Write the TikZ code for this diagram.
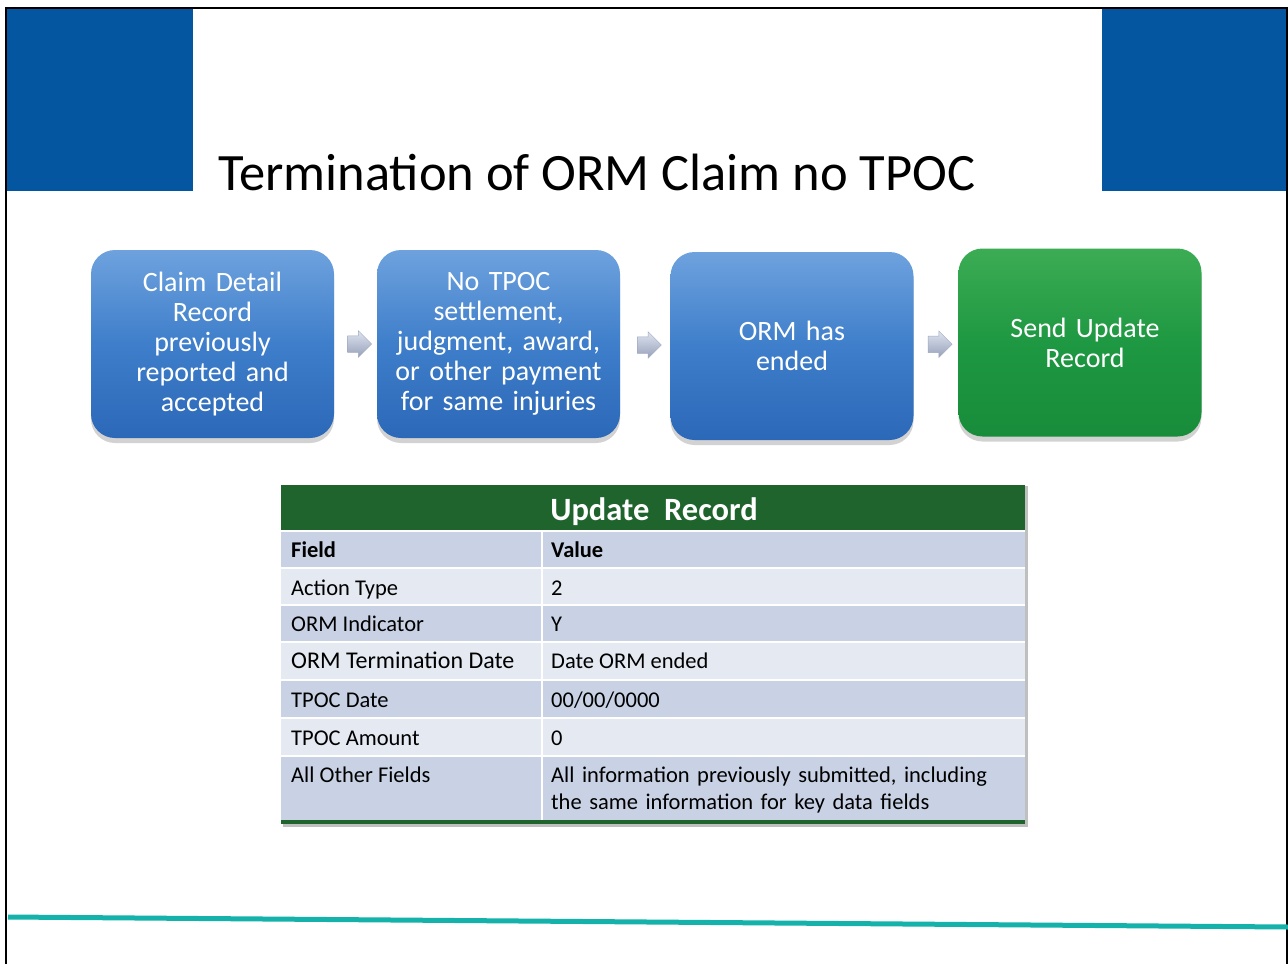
\documentclass[tikz,border=0pt]{standalone}
\usepackage{fontspec}
\setmainfont{Carlito}
\usetikzlibrary{shapes.arrows,shadows,calc}
\definecolor{hdrblue}{RGB}{5,86,160}
\definecolor{teal}{RGB}{20,178,170}
\definecolor{boxtop}{RGB}{110,162,222}
\definecolor{boxmid}{RGB}{62,126,202}
\definecolor{boxbot}{RGB}{44,104,184}
\definecolor{grntop}{RGB}{60,172,84}
\definecolor{grnmid}{RGB}{30,152,66}
\definecolor{grnbot}{RGB}{24,140,58}
\definecolor{tblgreen}{RGB}{31,100,45}
\definecolor{rowdark}{RGB}{200,210,228}
\definecolor{rowlight}{RGB}{228,233,242}
\definecolor{chevtop}{RGB}{222,228,240}
\definecolor{chevbot}{RGB}{150,160,185}
\tikzset{
  flowbox/.style={rounded corners=24pt, minimum width=243pt, minimum height=188pt,
    inner sep=0pt, text width=230pt, align=center, text=white,
    font=\fontsize{28}{30}\selectfont,
    drop shadow={opacity=0.35, shadow xshift=0pt, shadow yshift=-5pt}},
  bluebox/.style={flowbox, top color=boxtop, bottom color=boxbot, middle color=boxmid},
  greenbox/.style={flowbox, top color=grntop, bottom color=grnbot, middle color=grnmid},
  chev/.style={single arrow, minimum height=24pt, inner xsep=0pt, inner ysep=8pt,
    single arrow head extend=5pt,
    top color=chevtop, bottom color=chevbot, draw=chevbot!90, line width=0.5pt},
  celltext/.style={anchor=base west, inner sep=0pt, font=\fontsize{22.5}{27}\selectfont, text=black},
}
\begin{document}
\begin{tikzpicture}[x=1pt,y=-1pt]
\useasboundingbox (0,0) rectangle (1288,964);
\fill[white] (0,0) rectangle (1288,964);
% header blocks
\fill[hdrblue] (7,8) rectangle (193,191);
\fill[hdrblue] (1102,8) rectangle (1287,191);
\draw[line width=1.5pt] (6,964) -- (6,8) -- (1287,8) -- (1287,964);
% title
\node[anchor=base west, inner sep=0pt, font=\fontsize{52.5}{60}\selectfont] (title) at (218,190) {Termination of ORM Claim no TPOC};
% flow boxes
\node[bluebox] (b1) at (212.5,344) {Claim Detail\\Record\\previously\\reported and\\accepted};
\node[bluebox] (b2) at (498.5,344) {No TPOC\\settlement,\\judgment, award,\\or other payment\\for same injuries};
\node[bluebox] (b3) at (792,346) {ORM has\\ended};
\node[greenbox] (b4) at (1080,342.5) {\hspace*{10pt}Send Update\\\hspace*{10pt}Record};
% chevrons
\node[chev] (c1) at ($(b1.east)!0.5!(b2.west)$) {};
\node[chev] (c2) at ($(b2.east)!0.5!(b3.west)$) {};
\node[chev] (c3) at ($(b3.east)!0.5!(b4.west)$) {};
% table shadow
\fill[black!25] (283,486) rectangle (1028,827);
% table header
\fill[tblgreen] (281,485) rectangle (1025,531);
\node[anchor=base, inner sep=0pt, text=white, font=\bfseries\fontsize{32.5}{36}\selectfont] (thead) at (654,520) {Update~~Record};
% rows
\fill[rowdark]  (281,531) rectangle (1025,568);
\fill[rowlight] (281,568) rectangle (1025,605);
\fill[rowdark]  (281,605) rectangle (1025,642);
\fill[rowlight] (281,642) rectangle (1025,680);
\fill[rowdark]  (281,680) rectangle (1025,718);
\fill[rowlight] (281,718) rectangle (1025,756);
\fill[rowdark]  (281,756) rectangle (1025,820);
\fill[tblgreen] (281,820) rectangle (1025,824);
% separators
\foreach \yy in {531,568,605,642,680,718,756}
  \draw[white, line width=1.5pt] (281,\yy) -- (1025,\yy);
\draw[white, line width=2pt] (542,531) -- (542,820);
% cell texts
\node[celltext, font=\bfseries\fontsize{22.5}{27}\selectfont] (f0) at (291,557) {Field};
\node[celltext, font=\bfseries\fontsize{22.5}{27}\selectfont] (v0) at (551,557) {Value};
\node[celltext] (f1) at (291,595) {Action Type};
\node[celltext] (v1) at (551,595) {2};
\node[celltext] (f2) at (291,631) {ORM Indicator};
\node[celltext] (v2) at (551,631) {Y};
\node[celltext, font=\fontsize{24}{27}\selectfont] (f3) at (291,668) {ORM Termination Date};
\node[celltext] (v3) at (551,668) {Date ORM ended};
\node[celltext] (f4) at (291,707) {TPOC Date};
\node[celltext] (v4) at (551,707) {00/00/0000};
\node[celltext] (f5) at (291,745) {TPOC Amount};
\node[celltext] (v5) at (551,745) {0};
\node[celltext] (f6) at (291,782) {All Other Fields};
\node[celltext, align=left, text width=465pt] (v6) at (551,782) {All information previously submitted, including\\the same information for key data fields};
% bottom teal line
\draw[teal, line width=5pt] (8,917) -- (1288,927);
\end{tikzpicture}
\end{document}
